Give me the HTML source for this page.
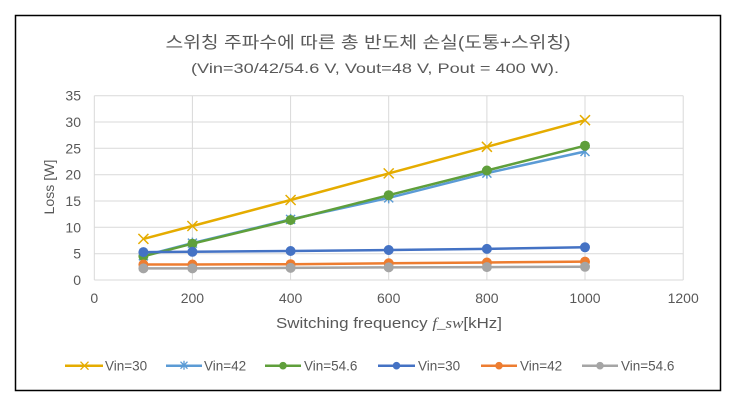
<!DOCTYPE html>
<html><head><meta charset="utf-8"><style>
html,body{margin:0;padding:0;background:#fff;}
svg{display:block;}
text{font-family:"Liberation Sans","Noto Sans CJK KR",sans-serif;fill:#595959;}
</style></head><body>
<svg width="736" height="406" viewBox="0 0 736 406" xmlns="http://www.w3.org/2000/svg">
<rect x="0" y="0" width="736" height="406" fill="#fff"/>
<rect x="15.5" y="15.5" width="705" height="375" fill="#fff" stroke="#000" stroke-width="1.5"/>
<text x="368" y="48" font-size="16.5" text-anchor="middle" textLength="405" lengthAdjust="spacingAndGlyphs">스위칭 주파수에 따른 총 반도체 손실(도통+스위칭)</text>
<text x="375" y="73" font-size="14" text-anchor="middle" textLength="368" lengthAdjust="spacingAndGlyphs">(Vin=30/42/54.6 V, Vout=48 V, Pout = 400 W).</text>
<g stroke="#d9d9d9" stroke-width="1" fill="none">
<line x1="94.3" y1="280" x2="683.2" y2="280"/>
<line x1="94.3" y1="253.7" x2="683.2" y2="253.7"/>
<line x1="94.3" y1="227.3" x2="683.2" y2="227.3"/>
<line x1="94.3" y1="201" x2="683.2" y2="201"/>
<line x1="94.3" y1="174.7" x2="683.2" y2="174.7"/>
<line x1="94.3" y1="148.3" x2="683.2" y2="148.3"/>
<line x1="94.3" y1="122" x2="683.2" y2="122"/>
<line x1="94.3" y1="95.7" x2="683.2" y2="95.7"/>
<line x1="94.3" y1="95.7" x2="94.3" y2="280"/>
<line x1="192.4" y1="95.7" x2="192.4" y2="280"/>
<line x1="290.6" y1="95.7" x2="290.6" y2="280"/>
<line x1="388.7" y1="95.7" x2="388.7" y2="280"/>
<line x1="486.9" y1="95.7" x2="486.9" y2="280"/>
<line x1="585" y1="95.7" x2="585" y2="280"/>
<line x1="683.2" y1="95.7" x2="683.2" y2="280"/>
</g>
<g font-size="14" text-anchor="end">
<text x="81" y="285">0</text>
<text x="81" y="258.7">5</text>
<text x="81" y="232.3">10</text>
<text x="81" y="206">15</text>
<text x="81" y="179.7">20</text>
<text x="81" y="153.3">25</text>
<text x="81" y="127">30</text>
<text x="81" y="100.7">35</text>
</g>
<g font-size="14" text-anchor="middle">
<text x="94.3" y="303">0</text>
<text x="192.4" y="303">200</text>
<text x="290.6" y="303">400</text>
<text x="388.7" y="303">600</text>
<text x="486.9" y="303">800</text>
<text x="585" y="303">1000</text>
<text x="683.2" y="303">1200</text>
</g>
<text x="389" y="328" font-size="14.5" text-anchor="middle" textLength="226" lengthAdjust="spacingAndGlyphs">Switching frequency <tspan font-family="Liberation Serif" font-style="italic">f_sw</tspan>[kHz]</text>
<text transform="translate(54,187) rotate(-90)" font-size="14" text-anchor="middle" textLength="55" lengthAdjust="spacingAndGlyphs">Loss [W]</text>

<!-- Yellow Vin=30 X -->
<g stroke="#E5AC00" stroke-width="2.5" fill="none">
<polyline points="143.4,238.9 192.4,226 290.6,200 388.7,173.4 486.9,146.8 585,120.2"/>
<g stroke-width="1.5">
<path d="M138.4,233.9 l10,10 M148.4,233.9 l-10,10"/>
<path d="M187.4,221 l10,10 M197.4,221 l-10,10"/>
<path d="M285.6,195 l10,10 M295.6,195 l-10,10"/>
<path d="M383.7,168.4 l10,10 M393.7,168.4 l-10,10"/>
<path d="M481.9,141.8 l10,10 M491.9,141.8 l-10,10"/>
<path d="M580,115.2 l10,10 M590,115.2 l-10,10"/>
</g>
</g>
<!-- Light blue Vin=42 star -->
<g stroke="#5B9BD5" stroke-width="2.5" fill="none">
<polyline points="143.4,255.8 192.4,243.1 290.6,219.4 388.7,197.9 486.9,173.1 585,151.5"/>
<g stroke-width="1.5">
<path d="M138.9,251.3 l9,9 M147.9,251.3 l-9,9 M143.4,250.3 v11"/>
<path d="M187.9,238.6 l9,9 M196.9,238.6 l-9,9 M192.4,237.6 v11"/>
<path d="M286.1,214.9 l9,9 M295.1,214.9 l-9,9 M290.6,213.9 v11"/>
<path d="M384.2,193.4 l9,9 M393.2,193.4 l-9,9 M388.7,192.4 v11"/>
<path d="M482.4,168.6 l9,9 M491.4,168.6 l-9,9 M486.9,167.6 v11"/>
<path d="M580.5,147 l9,9 M589.5,147 l-9,9 M585,146 v11"/>
</g>
</g>
<!-- Green Vin=54.6 -->
<g fill="#5F9F3B">
<polyline points="143.4,256.3 192.4,243.7 290.6,220 388.7,195.2 486.9,170.5 585,145.7" stroke="#5F9F3B" stroke-width="2.5" fill="none"/>
<circle cx="143.4" cy="256.3" r="5"/><circle cx="192.4" cy="243.7" r="5"/><circle cx="290.6" cy="220" r="5"/><circle cx="388.7" cy="195.2" r="5"/><circle cx="486.9" cy="170.5" r="5"/><circle cx="585" cy="145.7" r="5"/>
</g>
<!-- Blue Vin=30 -->
<g fill="#4472C4">
<polyline points="143.4,252.1 192.4,251.8 290.6,251 388.7,250 486.9,248.9 585,247.3" stroke="#4472C4" stroke-width="2.5" fill="none"/>
<circle cx="143.4" cy="252.1" r="5"/><circle cx="192.4" cy="251.8" r="5"/><circle cx="290.6" cy="251" r="5"/><circle cx="388.7" cy="250" r="5"/><circle cx="486.9" cy="248.9" r="5"/><circle cx="585" cy="247.3" r="5"/>
</g>
<!-- Orange Vin=42 -->
<g fill="#ED7D31">
<polyline points="143.4,264.5 192.4,264.5 290.6,264.2 388.7,263.3 486.9,262.5 585,261.6" stroke="#ED7D31" stroke-width="2.5" fill="none"/>
<circle cx="143.4" cy="264.5" r="5"/><circle cx="192.4" cy="264.5" r="5"/><circle cx="290.6" cy="264.2" r="5"/><circle cx="388.7" cy="263.3" r="5"/><circle cx="486.9" cy="262.5" r="5"/><circle cx="585" cy="261.6" r="5"/>
</g>
<!-- Gray Vin=54.6 -->
<g fill="#A5A5A5">
<polyline points="143.4,268.4 192.4,268.4 290.6,267.9 388.7,267.4 486.9,267.1 585,266.8" stroke="#A5A5A5" stroke-width="2.5" fill="none"/>
<circle cx="143.4" cy="268.4" r="5"/><circle cx="192.4" cy="268.4" r="5"/><circle cx="290.6" cy="267.9" r="5"/><circle cx="388.7" cy="267.4" r="5"/><circle cx="486.9" cy="267.1" r="5"/><circle cx="585" cy="266.8" r="5"/>
</g>

<!-- Legend -->
<g font-size="13.5">
<line x1="65" y1="365.7" x2="103" y2="365.7" stroke="#E5AC00" stroke-width="2.5"/>
<path d="M80.5,361.7 l8,8 M88.5,361.7 l-8,8" stroke="#E5AC00" stroke-width="1.3"/>
<text x="105" y="370.5">Vin=30</text>

<line x1="166" y1="365.7" x2="202" y2="365.7" stroke="#5B9BD5" stroke-width="2.5"/>
<path d="M180.5,361.7 l7,7 M187.5,361.7 l-7,7 M184,360.7 v9" stroke="#5B9BD5" stroke-width="1.3"/>
<text x="204" y="370.5">Vin=42</text>

<line x1="265" y1="365.7" x2="301" y2="365.7" stroke="#5F9F3B" stroke-width="2.5"/>
<circle cx="283" cy="365.7" r="3.8" fill="#5F9F3B"/>
<text x="304" y="370.5">Vin=54.6</text>

<line x1="378" y1="365.7" x2="415" y2="365.7" stroke="#4472C4" stroke-width="2.5"/>
<circle cx="396.5" cy="365.7" r="3.8" fill="#4472C4"/>
<text x="418" y="370.5">Vin=30</text>

<line x1="481" y1="365.7" x2="517" y2="365.7" stroke="#ED7D31" stroke-width="2.5"/>
<circle cx="499" cy="365.7" r="3.8" fill="#ED7D31"/>
<text x="520" y="370.5">Vin=42</text>

<line x1="582" y1="365.7" x2="618" y2="365.7" stroke="#A5A5A5" stroke-width="2.5"/>
<circle cx="600" cy="365.7" r="3.8" fill="#A5A5A5"/>
<text x="621" y="370.5">Vin=54.6</text>
</g>
</svg>
</body></html>
